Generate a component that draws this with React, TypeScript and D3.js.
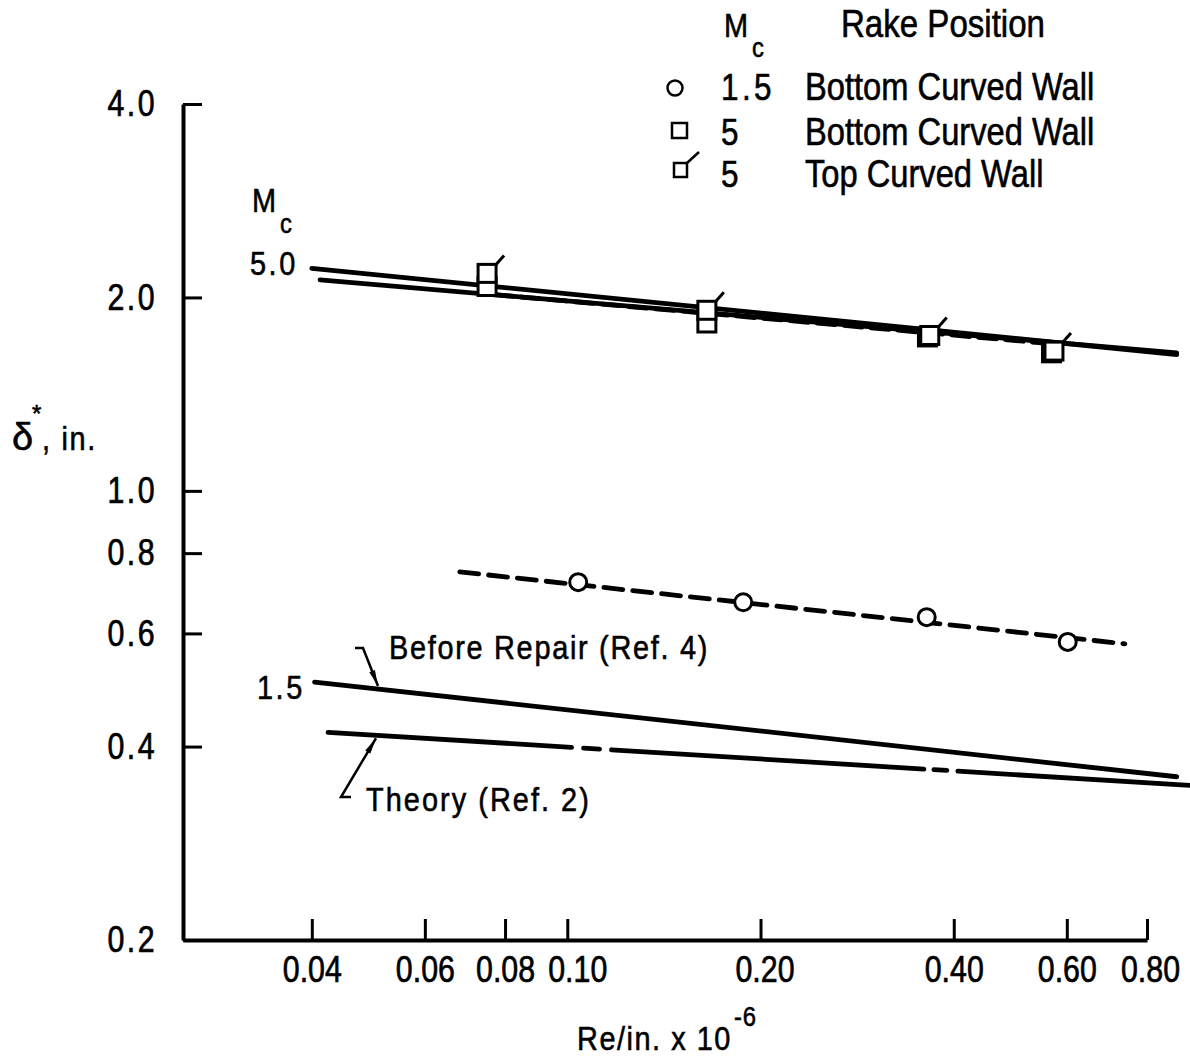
import React, { useEffect, useRef } from "react";
import * as d3 from "d3";

// axis ticks
const reTicks = [0.04, 0.06, 0.08, 0.1, 0.2, 0.4, 0.6, 0.8];
const reTickLabels = ["0.04", "0.06", "0.08", "0.10", "0.20", "0.40", "0.60", "0.80"];
const deltaTicks = [0.2, 0.4, 0.6, 0.8, 1.0, 2.0, 4.0];
const deltaTickLabels = ["0.2", "0.4", "0.6", "0.8", "1.0", "2.0", "4.0"];

// measured points
const mc15Re = [0.104, 0.188, 0.363, 0.602];
const mc15Delta = [0.721, 0.671, 0.636, 0.582];
const mc5BottomRe = [0.075, 0.165, 0.364, 0.568];
const mc5BottomDelta = [2.08, 1.825, 1.736, 1.64];
const mc5TopRe = [0.075, 0.165, 0.367, 0.573];
const mc5TopDelta = [2.18, 1.91, 1.745, 1.65];

// faired / reference lines
const fit15Re = [0.068, 0.739];
const fit15Delta = [0.748, 0.578];
const fit5Re = [0.077, 0.585];
const fit5Delta = [2.02, 1.69];
const before15Re = [0.0404, 0.89];
const before15Delta = [0.504, 0.359];
const theory15Re = [0.0424, 0.932];
const theory15Delta = [0.421, 0.348];
const before5Re = [0.04, 0.89];
const before5Delta = [2.22, 1.63];
const theory5Re = [0.0412, 0.89];
const theory5Delta = [2.13, 1.64];

const FONT = "'Liberation Sans', Arial, sans-serif";
const SX = 0.85; // condensed lettering

function App() {
  const ref = useRef<SVGSVGElement>(null);

  useEffect(() => {
    const svg = d3.select(ref.current);
    svg.selectAll("*").remove();

    const x = d3.scaleLog().domain([0.0252, 0.8]).range([183, 1147]);
    const y = d3.scaleLog().domain([0.2, 4.0]).range([940, 104]);

    const zip = (a: number[], b: number[]) => a.map((v, i) => [v, b[i]] as [number, number]);
    const line = d3.line<[number, number]>().x(d => x(d[0])).y(d => y(d[1]));
    // point on a straight (log-log) line at given Re
    const onLine = (res: number[], ds: number[], re: number) => {
      const t = (Math.log(re) - Math.log(res[0])) / (Math.log(res[1]) - Math.log(res[0]));
      return Math.exp(Math.log(ds[0]) + t * (Math.log(ds[1]) - Math.log(ds[0])));
    };

    // axes
    const yAxis = d3.axisLeft(y).tickValues(deltaTicks)
      .tickFormat((d, i) => deltaTickLabels[i]).tickSizeInner(-19).tickSizeOuter(0).tickPadding(26);
    const gy = svg.append("g").attr("transform", "translate(183,0)").call(yAxis);
    const xAxis = d3.axisBottom(x).tickValues(reTicks)
      .tickFormat((d, i) => reTickLabels[i]).tickSizeInner(-21).tickSizeOuter(0).tickPadding(16);
    const gx = svg.append("g").attr("transform", "translate(0,940)").call(xAxis);
    [gx, gy].forEach(g => {
      g.select(".domain").attr("stroke", "#000").attr("stroke-width", 4);
      g.selectAll(".tick line").attr("stroke", "#000").attr("stroke-width", 3);
      g.selectAll(".tick text").attr("fill", "#000").attr("stroke", "#000").attr("stroke-width", 0.7)
        .style("font-family", FONT).style("font-size", "37px");
    });
    // labels nudged where they crowd, as on the original sheet
    const nudge: Record<string, number> = { "0.10": 10, "0.20": 4, "0.80": 3 };
    gx.selectAll<SVGTextElement, number>(".tick text")
      .attr("transform", function () {
        const dx = nudge[this.textContent || ""] || 0;
        return `translate(${dx},0) scale(0.82,1)`;
      });
    gy.selectAll(".tick text").attr("x", -26 / 0.82).attr("transform", "scale(0.82,1)")
      .style("letter-spacing", "3px");

    // reference lines
    const solid = (res: number[], ds: number[], dash?: string) =>
      svg.append("path").datum(zip(res, ds)).attr("d", line)
        .attr("fill", "none").attr("stroke", "#000").attr("stroke-width", 4.8)
        .attr("stroke-linecap", "round").attr("stroke-dasharray", dash || null);
    solid(before5Re, before5Delta);
    solid(theory5Re, theory5Delta);
    solid(fit5Re, fit5Delta, "18 9");
    solid(before15Re, before15Delta);
    solid(theory15Re, theory15Delta, "244 12 16 12 313 10 13 11 400");
    solid(fit15Re, fit15Delta, "19 10");

    // symbols
    const sq = 18;
    svg.append("g").selectAll("rect.b").data(zip(mc5BottomRe, mc5BottomDelta)).join("rect")
      .attr("x", d => x(d[0]) - sq / 2).attr("y", d => y(d[1]) - sq / 2)
      .attr("width", sq).attr("height", sq)
      .attr("fill", "#fff").attr("stroke", "#000").attr("stroke-width", 3);
    const top = svg.append("g").selectAll("g").data(zip(mc5TopRe, mc5TopDelta)).join("g")
      .attr("transform", d => `translate(${x(d[0])},${y(d[1])})`);
    top.append("rect").attr("x", -sq / 2).attr("y", -sq / 2).attr("width", sq).attr("height", sq)
      .attr("fill", "#fff").attr("stroke", "#000").attr("stroke-width", 3);
    top.append("line").attr("x1", sq / 2).attr("y1", -sq / 2).attr("x2", sq / 2 + 8).attr("y2", -sq / 2 - 9)
      .attr("stroke", "#000").attr("stroke-width", 3);
    svg.append("g").selectAll("circle").data(zip(mc15Re, mc15Delta)).join("circle")
      .attr("cx", d => x(d[0])).attr("cy", d => y(d[1])).attr("r", 8.5)
      .attr("fill", "#fff").attr("stroke", "#000").attr("stroke-width", 3);

    const text = (tx: number, ty: number, s: string, size: number, ls = 0, sx = SX) =>
      svg.append("text").attr("transform", `translate(${tx},${ty}) scale(${sx},1)`).text(s)
        .style("font-family", FONT).style("font-size", size + "px")
        .style("letter-spacing", ls + "px").attr("fill", "#000")
        .attr("stroke", "#000").attr("stroke-width", 0.6);

    // axis titles
    text(12, 450, "\u03B4", 38, 0, 1);
    text(32, 422, "*", 24, 0, 1);
    text(42, 450, ", in.", 34, 2);
    text(577, 1050, "Re/in. x 10", 34, 1.8);
    text(734, 1026, "-6", 28, 1);

    // line labels
    text(252, 212, "M", 34);
    text(280, 233, "c", 28);
    text(250, 275, "5.0", 34, 3);
    text(257, 699, "1.5", 34, 3);

    // leaders
    const arrow = (fromX: number, fromY: number, tipX: number, tipY: number) => {
      const a = Math.atan2(tipY - fromY, tipX - fromX);
      const len = 16, w = 3;
      const bx = tipX - len * Math.cos(a), by = tipY - len * Math.sin(a);
      const px = -Math.sin(a) * w, py = Math.cos(a) * w;
      svg.append("path").attr("d", `M${tipX},${tipY}L${bx + px},${by + py}L${bx - px},${by - py}Z`).attr("fill", "#000");
    };
    const brRe = x.invert(378);
    const brTip: [number, number] = [x(brRe), y(onLine(before15Re, before15Delta, brRe)) - 3];
    svg.append("path").attr("d", `M355,648L363,648L${brTip[0]},${brTip[1]}`)
      .attr("fill", "none").attr("stroke", "#000").attr("stroke-width", 2.5);
    arrow(363, 648, brTip[0], brTip[1]);
    text(389, 659, "Before Repair  (Ref. 4)", 34, 2);

    const thRe = x.invert(376);
    const thTip: [number, number] = [x(thRe), y(onLine(theory15Re, theory15Delta, thRe)) + 3];
    svg.append("path").attr("d", `M${thTip[0]},${thTip[1]}L341,797L351,797`)
      .attr("fill", "none").attr("stroke", "#000").attr("stroke-width", 2.5);
    arrow(341, 797, thTip[0], thTip[1]);
    text(366, 811, "Theory (Ref. 2)", 34, 2.4);

    // legend
    text(724, 37, "M", 34);
    text(752, 57, "c", 28);
    text(841, 37, "Rake Position", 38, 0, 0.87);
    svg.append("circle").attr("cx", 675).attr("cy", 88).attr("r", 7.5)
      .attr("fill", "#fff").attr("stroke", "#000").attr("stroke-width", 2.5);
    svg.append("rect").attr("x", 672).attr("y", 123).attr("width", 15).attr("height", 15)
      .attr("fill", "#fff").attr("stroke", "#000").attr("stroke-width", 2.5);
    svg.append("rect").attr("x", 674).attr("y", 163).attr("width", 13).attr("height", 14)
      .attr("fill", "#fff").attr("stroke", "#000").attr("stroke-width", 2.5);
    svg.append("line").attr("x1", 687).attr("y1", 163).attr("x2", 699).attr("y2", 152)
      .attr("stroke", "#000").attr("stroke-width", 2.5);
    text(721, 100, "1.5", 37, 4);
    text(721, 145, "5", 37);
    text(721, 187, "5", 37);
    text(805, 100, "Bottom Curved Wall", 38, 0, 0.86);
    text(805, 145, "Bottom Curved Wall", 38, 0, 0.86);
    text(805, 187, "Top Curved Wall", 38, 0, 0.86);
  }, []);

  return (
    <svg ref={ref} width={1190} height={1062}
      style={{ position: "absolute", left: 0, top: 0, background: "#fff" }} />
  );
}

export default App;
